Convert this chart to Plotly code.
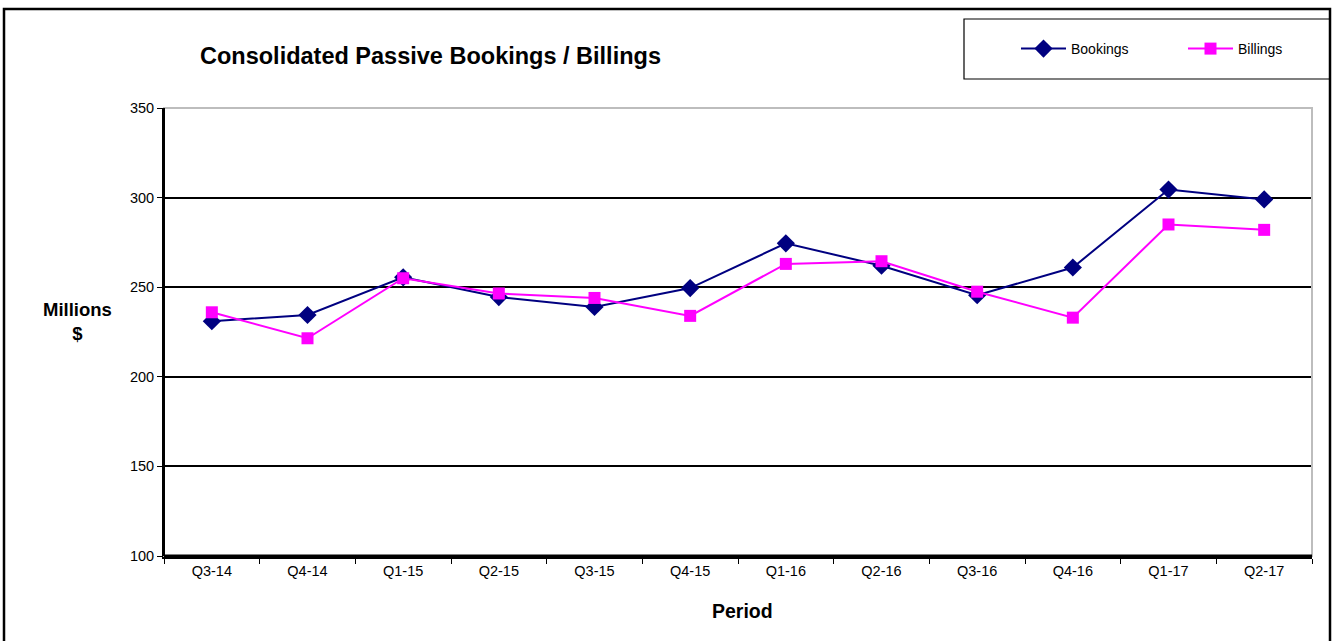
import plotly.graph_objects as go

# Quarterly periods and consolidated passive values (millions of dollars)
periods = ["Q3-14", "Q4-14", "Q1-15", "Q2-15", "Q3-15", "Q4-15",
           "Q1-16", "Q2-16", "Q3-16", "Q4-16", "Q1-17", "Q2-17"]
bookings = [231, 234.5, 255.5, 244.5, 239, 249.5, 274.5, 262, 245.5, 261, 304.5, 299]
billings = [236, 221.5, 255, 246.5, 244, 234, 263, 264.5, 247.5, 233, 285, 282]

y_ticks = [100, 150, 200, 250, 300, 350]

FONT = "Liberation Sans, Arial, sans-serif"

# Plot-area geometry in pixels (figure is 1332 x 641)
W, H = 1332, 641
L, R, T, B = 164, 1312, 108, 556


def px_x(v):
    return (v - L) / (R - L)


def px_y(v):
    return (B - v) / (B - T)


fig = go.Figure()

fig.add_trace(go.Scatter(
    x=periods, y=bookings, name="Bookings", mode="lines+markers",
    line=dict(color="#000080", width=2),
    marker=dict(symbol="diamond", size=14, color="#000080"),
))
fig.add_trace(go.Scatter(
    x=periods, y=billings, name="Billings", mode="lines+markers",
    line=dict(color="#FF00FF", width=2),
    marker=dict(symbol="square", size=12, color="#FF00FF"),
))

fig.update_layout(
    width=W, height=H,
    margin=dict(l=L, r=W - R, t=T, b=H - B, pad=0, autoexpand=False),
    paper_bgcolor="white",
    plot_bgcolor="white",
    font=dict(family=FONT, color="black", size=14),
    showlegend=True,
    legend=dict(
        orientation="h",
        x=px_x(1016), y=px_y(49), xanchor="left", yanchor="middle",
        bgcolor="rgba(0,0,0,0)", borderwidth=0,
        font=dict(family=FONT, size=14, color="black"),
        entrywidth=107, entrywidthmode="pixels",
        itemwidth=45,
    ),
    xaxis=dict(
        type="category",
        automargin=False,
        showgrid=False,
        showline=True, linecolor="black", linewidth=3,
        ticks="outside", tickson="boundaries", ticklen=5, tickcolor="black", tickwidth=1,
        tickfont=dict(family=FONT, size=14.5, color="black"),
        range=[-0.5, len(periods) - 0.5],
        zeroline=False,
    ),
    yaxis=dict(
        automargin=False,
        range=[100, 350],
        tickvals=y_ticks,
        showgrid=True, gridcolor="black", gridwidth=1.5,
        showline=True, linecolor="black", linewidth=2,
        ticks="outside", ticklen=5, tickcolor="black", tickwidth=1,
        tickfont=dict(family=FONT, size=14.5, color="black"),
        zeroline=False,
    ),
)

# Grey plot-area border (top and right), axis lines redrawn on top
fig.add_shape(type="rect", xref="paper", yref="paper",
              x0=0, x1=1, y0=0, y1=1,
              line=dict(color="#BDBDBD", width=2), layer="above")
fig.add_shape(type="line", xref="paper", yref="paper",
              x0=0, x1=1, y0=0, y1=0,
              line=dict(color="black", width=3), layer="above")
fig.add_shape(type="line", xref="paper", yref="paper",
              x0=0, x1=0, y0=0, y1=1,
              line=dict(color="black", width=2), layer="above")
# Outer chart frame
fig.add_shape(type="rect", xref="paper", yref="paper",
              x0=px_x(4), x1=px_x(1330), y0=px_y(660), y1=px_y(9),
              line=dict(color="black", width=2.5))
# Legend box
fig.add_shape(type="rect", xref="paper", yref="paper",
              x0=px_x(964), x1=px_x(1330), y0=px_y(79), y1=px_y(19),
              line=dict(color="black", width=1.2))

# Title and axis titles
fig.add_annotation(text="<b>Consolidated Passive Bookings / Billings</b>",
                   xref="paper", yref="paper", x=px_x(430), y=px_y(56),
                   xanchor="center", yanchor="middle", showarrow=False,
                   font=dict(family=FONT, size=23.5, color="black"))
fig.add_annotation(text="<b>Millions<br>$</b>",
                   xref="paper", yref="paper", x=px_x(77), y=px_y(321),
                   xanchor="center", yanchor="middle", showarrow=False,
                   font=dict(family=FONT, size=18.5, color="black"))
fig.add_annotation(text="<b>Period</b>",
                   xref="paper", yref="paper", x=px_x(742), y=px_y(611),
                   xanchor="center", yanchor="middle", showarrow=False,
                   font=dict(family=FONT, size=19.5, color="black"))

fig.write_html("out.html")
